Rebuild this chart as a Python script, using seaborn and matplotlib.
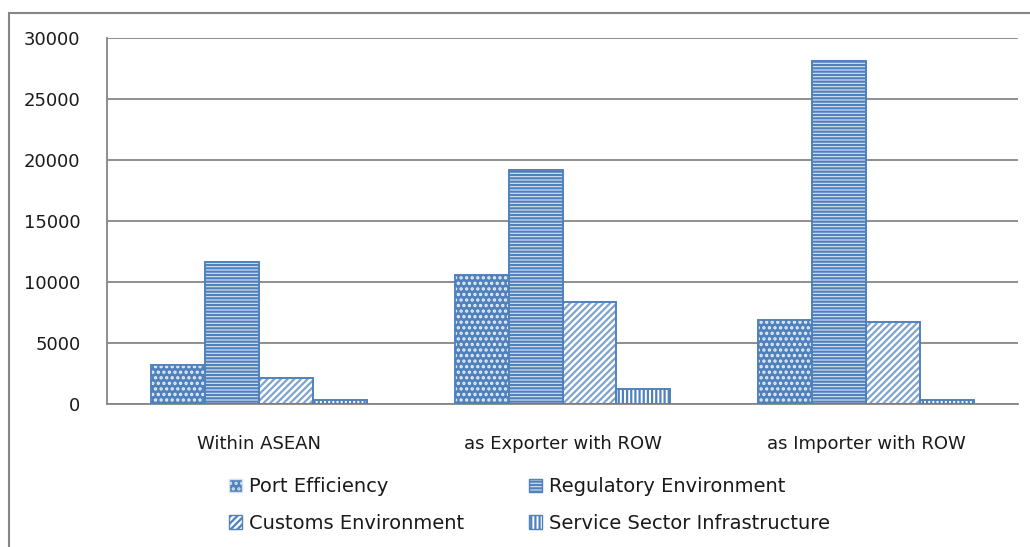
import matplotlib
matplotlib.use("Agg")
import matplotlib.pyplot as plt
from matplotlib.patches import Rectangle
import seaborn as sns
import pandas as pd

categories = ["Within ASEAN", "as Exporter with ROW", "as Importer with ROW"]
series = ["Port Efficiency", "Regulatory Environment",
          "Customs Environment", "Service Sector Infrastructure"]
port_efficiency = [3200, 10550, 6880]
regulatory_environment = [11650, 19180, 28100]
customs_environment = [2160, 8390, 6700]
service_infrastructure = [330, 1200, 330]
y_ticks = [0, 5000, 10000, 15000, 20000, 25000, 30000]

values = [port_efficiency, regulatory_environment,
          customs_environment, service_infrastructure]
df = pd.DataFrame([
    {"Category": c, "Series": s, "Value": v}
    for s, vals in zip(series, values)
    for c, v in zip(categories, vals)
])

BLUE = "#4F81BD"
GRID = "#868686"
TEXT = "#1a1a1a"
FS = 13

sns.set_theme(style="white")
plt.rcParams["font.family"] = ["DejaVu Sans"]
plt.rcParams["hatch.linewidth"] = 1.6

fig = plt.figure(figsize=(10.3, 5.47), dpi=100)
ax = fig.add_axes([107 / 1030, 1 - 404 / 547, (1018 - 107) / 1030, (404 - 38) / 547])

sns.barplot(data=df, x="Category", y="Value", hue="Series",
            order=categories, hue_order=series, width=0.71,
            palette=["white"] * 4, saturation=1, legend=False, ax=ax)

# fill styles per series: (face, hatch colour, hatch)
styles = {
    "Port Efficiency": (BLUE, "#E8EEF7", "..."),
    "Regulatory Environment": ("#DCE6F2", BLUE, "-----"),
    "Customs Environment": ("white", "#7FA3CF", "/////"),
    "Service Sector Infrastructure": ("white", BLUE, "||||"),
}

bars = [p for p in ax.patches if isinstance(p, Rectangle)]
for i, bar in enumerate(bars):
    s = series[i // len(categories)]
    face, hcol, hatch = styles[s]
    bar.set_facecolor(face)
    bar.set_edgecolor(BLUE)
    bar.set_linewidth(1.2)
    bar.set_zorder(3)
    ov = Rectangle(bar.get_xy(), bar.get_width(), bar.get_height(),
                   facecolor="none", edgecolor=hcol, linewidth=0,
                   hatch=hatch, zorder=3.5)
    ax.add_patch(ov)
    edge = Rectangle(bar.get_xy(), bar.get_width(), bar.get_height(),
                     facecolor="none", edgecolor=BLUE, linewidth=1.2, zorder=4)
    ax.add_patch(edge)

ax.set_ylim(0, 30000)
ax.set_xlim(-0.5, 2.5)
ax.set_yticks(y_ticks)
ax.set_yticklabels([str(t) for t in y_ticks], fontsize=FS, color=TEXT)
ax.yaxis.grid(True, color=GRID, linewidth=1.3, zorder=0)
ax.set_axisbelow(True)
ax.set_xlabel("")
ax.set_ylabel("")

# category labels centred, tick marks between groups
ax.set_xticks([0, 1, 2])
ax.set_xticklabels(categories, fontsize=FS, color=TEXT)
ax.tick_params(axis="x", length=0, pad=22)
ax.set_xticks([-0.5, 0.5, 1.5, 2.5], minor=True)
ax.tick_params(axis="x", which="minor", length=6, color=GRID, width=1.3, direction="out")
ax.tick_params(axis="y", length=6, color=GRID, width=1.3, direction="out", pad=13)

for side in ["top", "right"]:
    ax.spines[side].set_visible(False)
for side in ["left", "bottom"]:
    ax.spines[side].set_color(GRID)
    ax.spines[side].set_linewidth(1.3)


def legend_handle(s):
    face, hcol, hatch = styles[s]
    if s == "Port Efficiency":
        return Rectangle((0, 0), 1, 1, facecolor=BLUE, edgecolor="#D5E0EF",
                         hatch="...", linewidth=1)
    return Rectangle((0, 0), 1, 1, facecolor=face, edgecolor=BLUE,
                     hatch=hatch, linewidth=1)


# legend: two columns, filled row by row
columns = [[series[0], series[2]], [series[1], series[3]]]
col_x = [211 / 1030, 511 / 1030]
for names, x in zip(columns, col_x):
    leg = fig.legend([legend_handle(s) for s in names], names, ncol=1,
                     loc="center left", bbox_to_anchor=(x, 1 - 505 / 547),
                     frameon=False, fontsize=14, handlelength=0.7,
                     handleheight=0.7, handletextpad=0.35, labelspacing=0.88)
    for t in leg.get_texts():
        t.set_color(TEXT)

# chart-area border
fig.patches.append(Rectangle((9 / 1030, -0.05), 1.1, 1 - 13 / 547 + 0.05,
                             transform=fig.transFigure, facecolor="none",
                             edgecolor=GRID, linewidth=1.5, zorder=0))

fig.savefig("out.png", dpi=100)
